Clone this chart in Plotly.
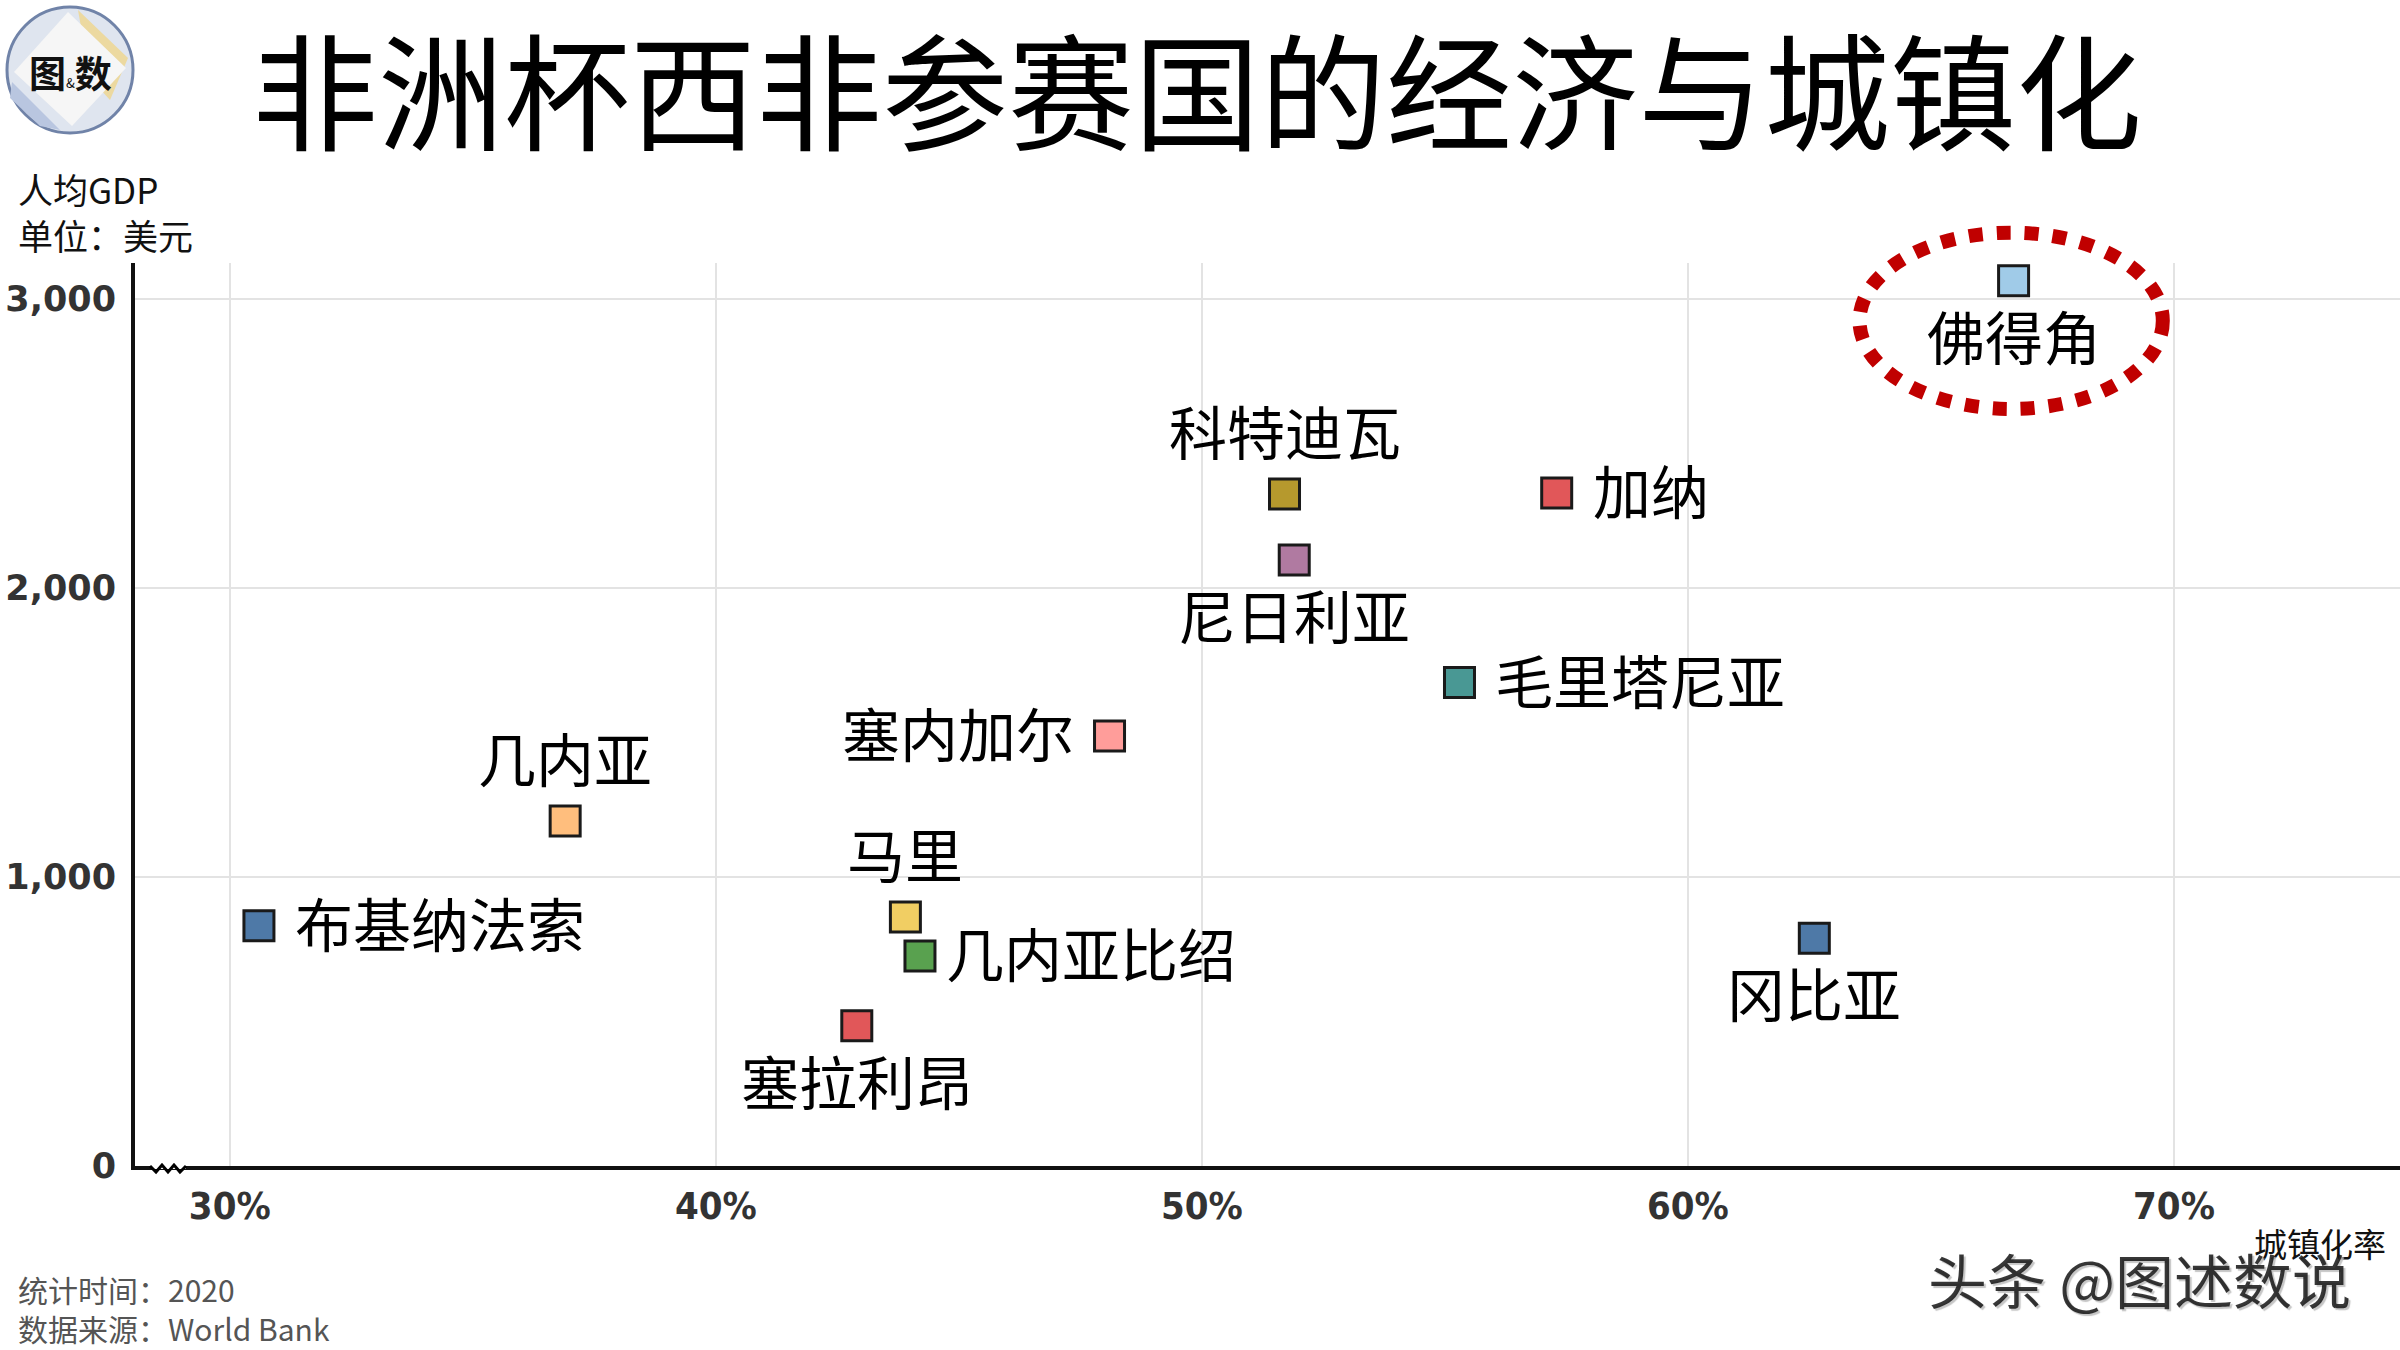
import plotly.graph_objects as go

# ---------------- data ----------------
countries = ["佛得角", "科特迪瓦", "加纳", "尼日利亚", "毛里塔尼亚", "塞内加尔",
             "几内亚", "马里", "几内亚比绍", "塞拉利昂", "布基纳法索", "冈比亚"]
urban_rate = [66.7, 51.7, 57.3, 51.9, 55.3, 48.1, 36.9, 43.9, 44.2, 42.9, 30.6, 62.6]
gdp_per_capita = [3064, 2326, 2329, 2097, 1673, 1488, 1194, 862, 727, 485, 831, 788]
colors = ["#a0cbe8", "#b6992d", "#e15759", "#b07aa1", "#499894", "#ff9d9a",
          "#ffbe7d", "#f1ce63", "#59a14f", "#e15759", "#4e79a7", "#4e79a7"]
label_pos = ["below", "above", "right", "below", "right", "left",
             "above", "above", "right", "below", "right", "below"]
x_ticks = [30, 40, 50, 60, 70]
x_tick_text = ["30%", "40%", "50%", "60%", "70%"]
y_ticks = [0, 1000, 2000, 3000]
y_tick_text = ["0", "1,000", "2,000", "3,000"]

# ---------------- layout geometry ----------------
W, H = 2400, 1350
ML, MR, MT, MB = 135, 0, 263, 184
XR = [28.05, 74.65]
YR = [0, 3125]
PW, PH = W - ML - MR, H - MT - MB

def px2paper_x(px):
    return (px - ML) / PW

def py2paper_y(py):
    return (H - MB - py) / PH

def dx2paper(x):
    return (x - XR[0]) / (XR[1] - XR[0])

def dy2paper(y):
    return (y - YR[0]) / (YR[1] - YR[0])

CJK = "Noto Sans CJK SC"

fig = go.Figure()
fig.add_trace(go.Scatter(
    x=urban_rate, y=gdp_per_capita, mode="markers",
    marker=dict(symbol="square", size=30, color=colors,
                line=dict(color="#1a1a1a", width=3)),
    hoverinfo="text", text=countries, showlegend=False,
))

annotations = []
for name, xv, yv, pos in zip(countries, urban_rate, gdp_per_capita, label_pos):
    a = dict(x=xv, y=yv, xref="x", yref="y", text=name, showarrow=False,
             font=dict(family=CJK, size=58, color="#000"))
    if pos == "above":
        a.update(xanchor="center", yanchor="middle", yshift=64)
    elif pos == "below":
        a.update(xanchor="center", yanchor="middle", yshift=-54)
    elif pos == "right":
        a.update(xanchor="left", yanchor="middle", yshift=4,
                 xshift=24 if name == "几内亚比绍" else 34)
    else:
        a.update(xanchor="right", yanchor="middle", yshift=4, xshift=-34)
    annotations.append(a)

# title
annotations.append(dict(x=px2paper_x(1197), y=py2paper_y(86), xref="paper", yref="paper",
                        text="非洲杯西非参赛国的经济与城镇化", showarrow=False,
                        xanchor="center", yanchor="middle",
                        font=dict(family=CJK, size=126, color="#000", weight=400)))
# y axis title
annotations.append(dict(x=px2paper_x(16), y=py2paper_y(212), xref="paper", yref="paper",
                        text="人均GDP<br>单位：美元", showarrow=False, align="left",
                        xanchor="left", yanchor="middle",
                        font=dict(family=CJK, size=35, color="#111")))
# x axis title
annotations.append(dict(x=px2paper_x(2388), y=py2paper_y(1243), xref="paper", yref="paper",
                        text="城镇化率", showarrow=False, xanchor="right", yanchor="middle",
                        font=dict(family=CJK, size=33, color="#111")))
# footnotes
annotations.append(dict(x=px2paper_x(16), y=py2paper_y(1308), xref="paper", yref="paper",
                        text="统计时间：2020<br>数据来源：World Bank", showarrow=False,
                        align="left", xanchor="left", yanchor="middle",
                        font=dict(family=CJK, size=30, color="#555")))
# watermark
annotations.append(dict(x=px2paper_x(2139), y=py2paper_y(1278), xref="paper", yref="paper",
                        text="头条 @图述数说", showarrow=False, xanchor="center", yanchor="middle",
                        font=dict(family=CJK, size=59, color="rgba(20,20,20,0.85)",
                                  shadow="2px 2px 1px #bbbbbb")))
# logo text
annotations.append(dict(x=px2paper_x(70), y=py2paper_y(72), xref="paper", yref="paper",
                        text="<b>图</b><span style='font-size:13px'>&amp;</span><b>数</b>",
                        showarrow=False, xanchor="center", yanchor="middle",
                        font=dict(family=CJK, size=37, color="#111")))

shapes = []
# logo circle
cx, cy, r = 70, 70, 63
shapes.append(dict(type="circle", xref="paper", yref="paper",
                   x0=px2paper_x(cx - r), x1=px2paper_x(cx + r),
                   y0=py2paper_y(cy + r), y1=py2paper_y(cy - r),
                   fillcolor="#dfe5ef", line=dict(color="#7083a8", width=3), layer="above"))

def ppath(points):
    return "M " + " L ".join(f"{px2paper_x(px)},{py2paper_y(py)}" for px, py in points) + " Z"

shapes.append(dict(type="path", xref="paper", yref="paper",
                   path=ppath([(cx + 8, cy - 60), (cx + 58, cy - 12), (cx + 40, cy + 30), (cx + 20, cy + 8)]),
                   fillcolor="#ecd9a0", line=dict(width=0), layer="above"))
shapes.append(dict(type="path", xref="paper", yref="paper",
                   path=ppath([(cx - 58, cy + 12), (cx - 10, cy + 60), (cx - 30, cy + 56), (cx - 60, cy + 28)]),
                   fillcolor="#b9c6e0", line=dict(width=0), layer="above"))
shapes.append(dict(type="path", xref="paper", yref="paper",
                   path=ppath([(cx - 2, cy - 58), (cx + 56, cy - 2), (cx + 2, cy + 56), (cx - 56, cy + 2)]),
                   fillcolor="#f6f6f6", line=dict(width=0), layer="above"))

# dotted ellipse around Cape Verde (paper refs so it is not clipped)
ex, ey = 66.65, 2925
erx, ery = 3.12, 305
shapes.append(dict(type="circle", xref="paper", yref="paper",
                   x0=dx2paper(ex - erx), x1=dx2paper(ex + erx),
                   y0=dy2paper(ey - ery), y1=dy2paper(ey + ery),
                   line=dict(color="#c00000", width=14, dash="dot"), layer="above"))

# axis break zigzag on x axis
ybase = H - MB
shapes.append(dict(type="line", xref="paper", yref="paper",
                   x0=px2paper_x(152), x1=px2paper_x(186), y0=py2paper_y(ybase), y1=py2paper_y(ybase),
                   line=dict(color="white", width=6), layer="above"))
zig = [(150, ybase), (156, ybase + 6), (162, ybase - 1), (168, ybase + 6), (174, ybase - 1),
       (180, ybase + 6), (186, ybase)]
shapes.append(dict(type="path", xref="paper", yref="paper",
                   path="M " + " L ".join(f"{px2paper_x(a)},{py2paper_y(b)}" for a, b in zig),
                   line=dict(color="black", width=3), layer="above"))

fig.update_layout(
    width=W, height=H,
    margin=dict(l=ML, r=MR, t=MT, b=MB),
    paper_bgcolor="white", plot_bgcolor="white",
    annotations=annotations, shapes=shapes,
    xaxis=dict(range=XR, tickvals=x_ticks, ticktext=x_tick_text, showgrid=True,
               gridcolor="#e3e3e3", gridwidth=2, zeroline=False,
               showline=True, linecolor="#111", linewidth=4, ticks="",
               tickfont=dict(family="DejaVu Sans Condensed, Liberation Sans, DejaVu Sans",
                             size=38, color="#333", weight="bold"),
               ticklabelstandoff=3),
    yaxis=dict(range=YR, tickvals=y_ticks, ticktext=y_tick_text, showgrid=True,
               gridcolor="#e3e3e3", gridwidth=2, zeroline=False,
               showline=True, linecolor="#111", linewidth=4, ticks="",
               tickfont=dict(family="DejaVu Sans, Liberation Sans", size=35, color="#333", weight="bold"),
               ticklabelstandoff=8),
)

fig.write_html("out.html")
